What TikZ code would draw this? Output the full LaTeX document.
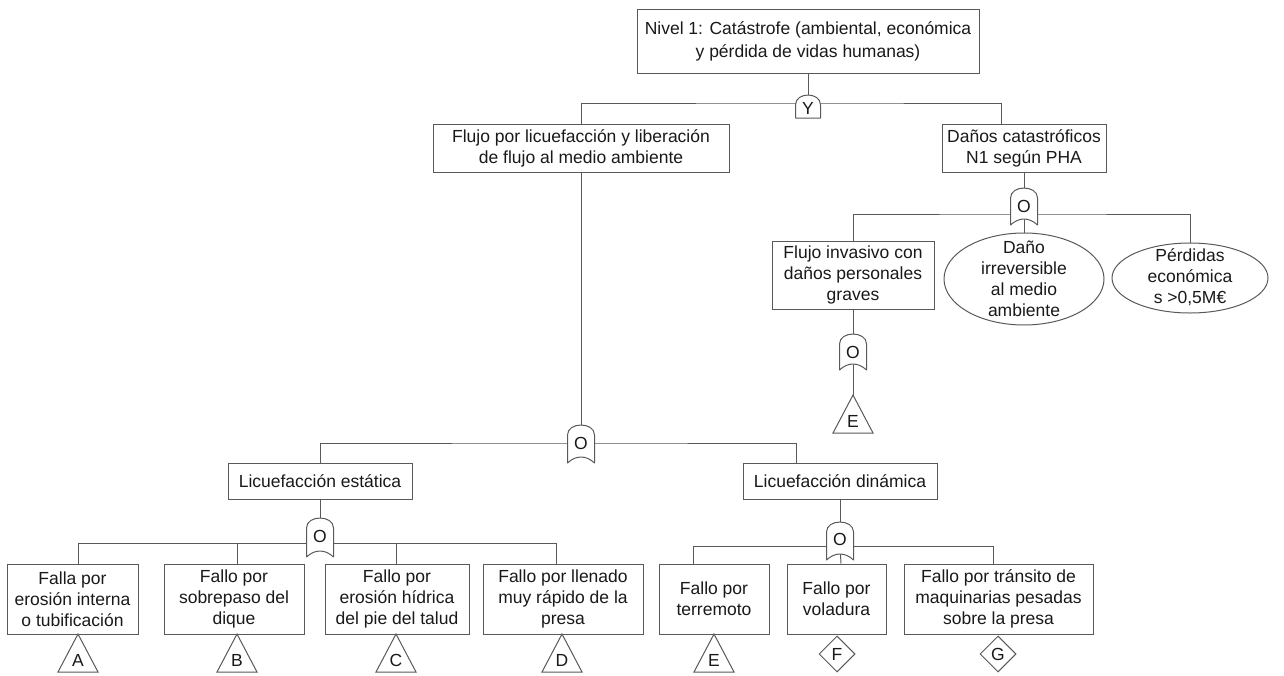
\documentclass[tikz,border=0pt]{standalone}
\usepackage{fontspec}
\setmainfont{Liberation Sans}
\usetikzlibrary{shapes.geometric,calc}

% OR gate outline: #1 centre x, #2 top y, #3 bottom y
\newcommand\orgateshape[3]{%
  \draw[gateshape] ({#1-13.5},{#2+10}) -- ({#1-13.5},#3)
    .. controls ({#1-5},{#3-8}) and ({#1+5},{#3-8}) .. ({#1+13.5},#3)
    -- ({#1+13.5},{#2+10})
    .. controls ({#1+13.5},{#2-3.3}) and ({#1-13.5},{#2-3.3}) .. cycle;}
% AND gate outline: #1 centre x, #2 top y, #3 bottom y
\newcommand\andgateshape[3]{%
  \draw[gateshape] ({#1-12.5},#3) -- ({#1-12.5},{#2+10})
    .. controls ({#1-12.5},{#2-3.3}) and ({#1+12.5},{#2-3.3}) .. ({#1+12.5},{#2+10})
    -- ({#1+12.5},#3) -- cycle;}
% transfer triangle: #1 name, #2 apex x, #3 apex y, #4 letter
\newcommand\xfertri[4]{%
  \draw[xfer] (#2,#3) -- ({#2+20},{#3+38}) -- ({#2-20},{#3+38}) -- cycle;
  \node[inner sep=0pt] (#1) at (#2,{#3+26}) {#4};}

\begin{document}
\begin{tikzpicture}[x=1pt,y=-1pt,
  every node/.style={font=\fontsize{17.5}{21}\selectfont, text=black!90},
  ln/.style={draw=black!65, line width=1pt},
  evbox/.style={ln, rectangle, align=center, inner sep=0pt},
  evell/.style={ln, ellipse, inner sep=0pt},
  gateshape/.style={ln, fill=white, line join=round},
  xfer/.style={ln, fill=white, line join=miter},
  diam/.style={ln, diamond, fill=white, inner sep=0pt, minimum width=36pt, minimum height=36pt, aspect=1}
]
\useasboundingbox (0,0) rectangle (1284,675);

% ---------- events ----------
\node[evbox, minimum width=342pt, minimum height=64pt] (top) at (808,41)
  {Nivel 1: Catástrofe (ambiental, económica\\[2pt]y pérdida de vidas humanas)};
\node[evbox, minimum width=296pt, minimum height=48pt] (flujo) at (581,148)
  {Flujo por licuefacción y liberación\\de flujo al medio ambiente};
\node[evbox, minimum width=164pt, minimum height=48pt] (danos) at (1024,148)
  {Daños catastróficos\\N1 según PHA};
\node[evbox, minimum width=162pt, minimum height=68pt] (invasivo) at (853,275)
  {Flujo invasivo con\\daños personales\\graves};
\node[evell, minimum width=160pt, minimum height=92pt] (dano) at (1024,279) {};
\node[align=center, inner sep=0pt] (danotxt) at (dano.center)
  {Daño\\irreversible\\al medio\\ambiente};
\node[evell, minimum width=156pt, minimum height=70pt] (perdidas) at (1190,278) {};
\node[align=center, inner sep=0pt] (perdidastxt) at (1190,277)
  {Pérdidas\\económica\\s >0,5M€};
\node[evbox, minimum width=184pt, minimum height=36pt] (estatica) at (320,481)
  {Licuefacción estática};
\node[evbox, minimum width=194pt, minimum height=36pt] (dinamica) at (840,481)
  {Licuefacción dinámica};

\node[evbox, minimum width=131pt, minimum height=70pt] (fA) at (72.5,599)
  {Falla por\\erosión interna\\o tubificación};
\node[evbox, minimum width=140pt, minimum height=70pt] (fB) at (234,599)
  {Fallo por\\sobrepaso del\\dique};
\node[evbox, minimum width=144pt, minimum height=70pt] (fC) at (397,599)
  {Fallo por\\erosión hídrica\\del pie del talud};
\node[evbox, minimum width=160pt, minimum height=70pt] (fD) at (563,599)
  {Fallo por llenado\\muy rápido de la\\presa};
\node[evbox, minimum width=110pt, minimum height=70pt] (fE) at (714,599)
  {Fallo por\\terremoto};
\node[evbox, minimum width=99pt, minimum height=70pt] (fF) at (836.5,599)
  {Fallo por\\voladura};
\node[evbox, minimum width=189pt, minimum height=70pt] (fG) at (998.5,599)
  {Fallo por tránsito de\\maquinarias pesadas\\sobre la presa};

% ---------- gate hubs and inputs ----------
\coordinate (gY) at (808,103);   \coordinate (gYin) at (808,95);
\coordinate (gO1) at (1024,214); \coordinate (gO1in) at (1024,188);
\coordinate (gO2in) at (853,334);
\coordinate (gO3) at (581,443);  \coordinate (gO3in) at (581,425);
\coordinate (gO4) at (320,543);  \coordinate (gO4in) at (320,518);
\coordinate (gO5) at (840,546);  \coordinate (gO5in) at (840,522);
\coordinate (e1apex) at (853,395);

% drop points on the lower events
\coordinate (dDanos) at ([xshift=-23pt]danos.north);
\coordinate (dDin) at ([xshift=-44pt]dinamica.north);
\coordinate (dA) at ([xshift=5.5pt]fA.north);
\coordinate (dB) at ([xshift=3pt]fB.north);
\coordinate (dC) at ([xshift=-1pt]fC.north);
\coordinate (dD) at ([xshift=-7pt]fD.north);
\coordinate (dE) at ([xshift=-21pt]fE.north);
\coordinate (dF) at ([xshift=4.5pt]fF.north);
\coordinate (dG) at ([xshift=-5.5pt]fG.north);

% ---------- connectors ----------
\draw[ln] (top.south) -- (gYin);
\draw[ln] (flujo.north) |- (gY) -| (dDanos);
\draw[ln] (danos.south) -- (gO1in);
\draw[ln] (invasivo.north) |- (gO1) -| (perdidas.north);
\draw[ln] (gO1) -- (dano.north);
\draw[ln] (invasivo.south) -- (gO2in) -- (e1apex);
\draw[ln] (flujo.south) -- (gO3in);
\draw[ln] (estatica.north) |- (gO3) -| (dDin);
\draw[ln] (estatica.south) -- (gO4in);
\draw[ln] (dA) |- (gO4) -| (dD);
\draw[ln] (dB) -- (dB |- gO4);
\draw[ln] (dC) -- (dC |- gO4);
\draw[ln] (dinamica.south) -- (gO5in);
\draw[ln] (dE) |- (gO5) -| (dG);
\draw[ln] (gO5) -- (dF);

% ---------- gates ----------
\andgateshape{808}{95}{118}
\node[inner sep=0pt] (gateY) at (808,108) {Y};
\orgateshape{1024}{188}{225}
\node[inner sep=0pt] (gateO1) at (1024,206) {O};
\orgateshape{853}{334}{370}
\node[inner sep=0pt] (gateO2) at (853,352) {O};
\orgateshape{581}{425}{463}
\node[inner sep=0pt] (gateO3) at (581,443) {O};
\orgateshape{320}{518}{557}
\node[inner sep=0pt] (gateO4) at (320,536) {O};
\orgateshape{840}{522}{560}
\node[inner sep=0pt] (gateO5) at (840,539) {O};

% ---------- transfer symbols ----------
\xfertri{tE1}{853}{395}{E}
\xfertri{tA}{78}{634}{A}
\xfertri{tB}{237}{634}{B}
\xfertri{tC}{396}{634}{C}
\xfertri{tD}{562}{634}{D}
\xfertri{tE2}{714}{634}{E}
\node[diam] (dmF) at (837,654) {F};
\node[diam] (dmG) at (998,654) {G};

\end{tikzpicture}
\end{document}
